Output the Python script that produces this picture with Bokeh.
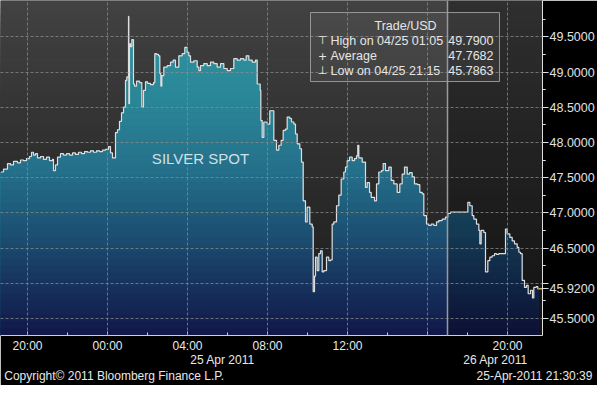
import numpy as np
from bokeh.plotting import figure
from bokeh.models import (Range1d, FixedTicker, LinearAxis, Label, BoxAnnotation,
                          Span, NumeralTickFormatter)
from bokeh.embed import file_html
from bokeh.resources import INLINE

# ---------------- data (minutes relative to 25 Apr 2011 00:00) ----------------
times = [
    -321, -312, -300, -291, -282, -270, -261, -252, -243, -234,
    -228, -222, -216, -210, -201, -192, -183, -174, -165, -162,
    -156, -150, -141, -132, -123, -114, -105, -96, -87, -78,
    -69, -60, -51, -42, -33, -24, -15, -6, 3, 9,
    15, 24, 30, 36, 42, 48, 54, 58, 63, 64,
    66, 69, 73, 78, 81, 87, 96, 103, 108, 114,
    120, 129, 138, 142, 147, 153, 157, 160, 163, 169,
    179, 189, 197, 204, 214, 224, 232, 239, 244, 249,
    259, 269, 274, 279, 289, 299, 309, 319, 329, 339,
    349, 359, 369, 379, 389, 399, 409, 416, 424, 434,
    444, 449, 458, 460, 464, 469, 479, 487, 499, 507,
    514, 521, 527, 534, 539, 547, 552, 559, 564, 569,
    577, 582, 587, 594, 599, 607, 614, 617, 621, 624,
    629, 634, 639, 644, 649, 657, 664, 669, 674, 679,
    687, 694, 701, 709, 714, 719, 726, 734, 741, 747,
    751, 754, 764, 774, 779, 786, 791, 801, 807, 814,
    822, 827, 834, 844, 851, 859, 869, 877, 884, 891,
    899, 906, 914, 921, 930, 937, 944, 949, 957, 964,
    971, 979, 987, 994, 1004, 1014, 1021, 1029, 1081, 1087,
    1094, 1099, 1107, 1114, 1117, 1121, 1129, 1134, 1141, 1147,
    1154, 1161, 1167, 1174, 1194, 1199, 1207, 1214, 1221, 1229,
    1234, 1239, 1244, 1251, 1257, 1262, 1269, 1275, 1279, 1286,
    1291,
]
prices = [
    47.58, 47.62, 47.70, 47.68, 47.73, 47.71, 47.75, 47.74, 47.77, 47.80,
    47.86, 47.82, 47.84, 47.78, 47.80, 47.76, 47.79, 47.74, 47.76, 47.60,
    47.68, 47.79, 47.84, 47.82, 47.84, 47.82, 47.85, 47.83, 47.86, 47.84,
    47.87, 47.86, 47.88, 47.86, 47.88, 47.87, 47.89, 47.90, 47.94, 47.85,
    47.78, 48.14, 48.18, 48.30, 48.42, 48.50, 48.88, 48.93, 49.79, 48.55,
    49.40, 49.36, 49.46, 48.83, 48.80, 48.87, 48.85, 48.50, 48.74, 48.86,
    48.84, 48.82, 48.85, 49.26, 49.25, 49.23, 48.98, 48.80, 48.95, 49.07,
    49.09, 49.14, 49.17, 49.07, 49.23, 49.26, 49.35, 49.28, 49.23, 49.14,
    49.16, 49.07, 49.02, 49.09, 49.12, 49.09, 49.14, 49.12, 49.07, 49.12,
    49.05, 49.02, 49.05, 49.19, 49.17, 49.19, 49.17, 49.23, 49.17, 49.14,
    49.17, 48.83, 48.74, 48.31, 48.07, 48.29, 48.26, 48.45, 48.03, 47.89,
    47.96, 48.03, 48.17, 48.19, 48.36, 48.34, 48.29, 48.26, 48.12, 47.98,
    47.91, 47.72, 47.17, 46.87, 47.08, 46.84, 46.80, 45.88, 46.10, 46.37,
    46.18, 46.42, 46.46, 46.16, 46.18, 46.37, 46.32, 46.33, 46.84, 46.87,
    47.10, 47.25, 47.48, 47.58, 47.65, 47.74, 47.79, 47.74, 47.77, 47.81,
    47.96, 47.78, 47.72, 47.36, 47.43, 47.29, 47.22, 47.17, 47.41, 47.58,
    47.60, 47.70, 47.60, 47.65, 47.46, 47.41, 47.29, 47.41, 47.55, 47.65,
    47.55, 47.57, 47.51, 47.41, 47.40, 47.29, 47.27, 46.96, 46.84, 46.82,
    46.84, 46.82, 46.87, 46.89, 46.91, 46.94, 46.99, 47.01, 47.15, 47.10,
    46.96, 46.91, 46.84, 46.75, 46.56, 46.75, 46.72, 46.16, 46.32, 46.37,
    46.39, 46.42, 46.41, 46.42, 46.77, 46.70, 46.65, 46.60, 46.56, 46.51,
    46.44, 46.42, 46.04, 45.94, 45.97, 45.85, 45.90, 45.79, 45.94, 45.95,
    45.92,
]
close_time = 1293
last_price = 45.92
day_break = 1020  # start of 26 Apr session

x_ticks = [-240, 0, 240, 480, 720, 960, 1200]
x_tick_labels = ["20:00", "00:00", "04:00", "08:00", "12:00", "", "20:00"]
date_ticks = [345, 1164]
date_labels = ["25 Apr 2011", "26 Apr 2011"]
y_ticks = [45.5, 46.0, 46.5, 47.0, 47.5, 48.0, 48.5, 49.0, 49.5]
footer_ticks = [20, 1281]
footer_labels = ["Copyright\u00a9 2011 Bloomberg Finance L.P.", "25-Apr-2011 21:30:39"]

series_title = "SILVER SPOT"
legend_title = "Trade/USD"
legend_symbols = ["\u22a4", "+", "\u22a5"]
legend_names = ["High on 04/25 01:05", "Average", "Low on 04/25 21:15"]
legend_values = ["49.7900", "47.7682", "45.7863"]

# ---------------- ranges ----------------
X0, X1 = -321, 1305
Y0, Y1 = 45.257, 50.016
PY = 1 / 70.4   # price per pixel

FONT = "Liberation Sans"

p = figure(frame_width=542, frame_height=335,
           x_range=Range1d(X0, X1), y_range=Range1d(Y0, Y1),
           y_axis_location="right", output_backend="svg", toolbar_location=None,
           min_border_left=0, min_border_top=0, min_border_right=55,
           min_border_bottom=48, background_fill_color="#2e2e2e",
           border_fill_color="black", outline_line_color=None)


def hex2rgb(h):
    return np.array([int(h[i:i + 2], 16) for i in (1, 3, 5)], dtype=float)


def grad(stops, v):
    vs = [s[0] for s in stops]
    cs = [hex2rgb(s[1]) for s in stops]
    rgb = [np.interp(v, vs, [c[k] for c in cs]) for k in range(3)]
    return "#%02x%02x%02x" % tuple(int(round(c)) for c in rgb)


bounds = np.linspace(Y0, Y1, 49)[1:]
step = bounds[1] - bounds[0]
tops = bounds[::-1]

# background gradient
bg_stops = [(Y0, "#1b1b1b"), (47.4, "#2b2b2b"), (Y1, "#424242")]
p.quad(left=[X0] * len(tops), right=[X1] * len(tops), bottom=[Y0] * len(tops),
       top=tops, fill_color=[grad(bg_stops, b - step / 2) for b in tops],
       line_color=None)

# stepped area with gradient
t = np.array(times + [close_time], dtype=float)
v = np.array(prices + [prices[-1]], dtype=float)
xs = np.repeat(t, 2)[1:]
ys = np.repeat(v, 2)[:-1]
fill_stops = [(Y0, "#11174a"), (46.04, "#17355f"), (46.75, "#1c5174"),
              (47.60, "#246f8a"), (48.595, "#2a8696"), (Y1, "#3098a4")]
for b in tops:
    p.varea(x=xs, y1=np.full_like(ys, Y0), y2=np.minimum(ys, b),
            fill_color=grad(fill_stops, b - step / 2), fill_alpha=1.0)

# darker current session
p.quad(left=[day_break], right=[X1], bottom=[Y0], top=[Y1],
       fill_color="black", fill_alpha=0.28, line_color=None)

# price line
p.step(x=list(t), y=list(v), mode="after", line_color="#dedede", line_width=1.2)
p.ray(x=[close_time], y=[last_price], length=0, angle=0,
      line_color="#e8a33a", line_width=1.5)

# grids
p.ygrid.ticker = FixedTicker(ticks=y_ticks)
p.xgrid.ticker = FixedTicker(ticks=x_ticks)
for g in (p.xgrid, p.ygrid):
    g.grid_line_color = "#8c8c8c"
    g.grid_line_dash = "3 2"
    g.grid_line_alpha = 0.75
    g.level = "guide"


def style_x(ax, standoff):
    ax.axis_label = None
    ax.axis_label_standoff = 0
    ax.major_label_text_color = "#e8e8e8"
    ax.major_label_text_font = FONT
    ax.major_label_text_font_size = "12px"
    ax.major_label_standoff = standoff


# x axis (times)
xa = p.xaxis[0]
xa.ticker = FixedTicker(ticks=x_ticks, minor_ticks=list(range(-240, 1321, 120)))
xa.major_label_overrides = dict(zip(x_ticks, x_tick_labels))
xa.major_tick_in = 4
xa.major_tick_out = 0
xa.minor_tick_in = 3
xa.minor_tick_out = 0
xa.axis_line_color = "#d0d0d0"
xa.major_tick_line_color = "#d0d0d0"
xa.minor_tick_line_color = "#d0d0d0"
style_x(xa, 3)

# date row
da = LinearAxis(ticker=FixedTicker(ticks=date_ticks),
                major_label_overrides=dict(zip(date_ticks, date_labels)),
                axis_line_color=None, major_tick_line_color=None,
                minor_tick_line_color=None)
style_x(da, -9)
p.add_layout(da, "below")

# footer row
fa = LinearAxis(ticker=FixedTicker(ticks=footer_ticks),
                major_label_overrides=dict(zip(footer_ticks, footer_labels)),
                axis_line_color=None, major_tick_line_color=None,
                minor_tick_line_color=None)
style_x(fa, -7)
p.add_layout(fa, "below")

# y axis (price), with the last-price tag
ya = p.yaxis[0]
ya.ticker = FixedTicker(ticks=sorted(y_ticks + [last_price]),
                        minor_ticks=[y + d for y in y_ticks for d in (-0.25, 0.25)])
ya.formatter = NumeralTickFormatter(format="0.0000")
ya.major_label_overrides = {46.0: ""}
ya.axis_label = None
ya.axis_label_standoff = 0
ya.major_tick_in = 0
ya.major_tick_out = 6
ya.minor_tick_in = 0
ya.minor_tick_out = 3
ya.axis_line_color = "#e0e0e0"
ya.major_tick_line_color = "#e0e0e0"
ya.minor_tick_line_color = "#e0e0e0"
ya.major_label_text_color = "#e0e0e0"
ya.major_label_text_font = FONT
ya.major_label_text_font_size = "12.5px"
ya.major_label_standoff = 1

# session separator
p.add_layout(Span(location=day_break, dimension="height", line_color="#9a9a9a",
                  line_width=1.5))

# legend box
p.add_layout(BoxAnnotation(left=609, right=1176, top=49.845, bottom=48.865,
                           fill_color="#8a8a8a", fill_alpha=0.12,
                           line_color="#a0a0a0", line_width=1, line_alpha=0.9))
p.add_layout(Label(x=894, y=49.66, text=legend_title, text_align="center",
                   text_baseline="middle", text_color="#e6e6e6",
                   text_font=FONT, text_font_size="12.5px"))
for i, (sym, name, val) in enumerate(zip(legend_symbols, legend_names, legend_values)):
    yy = 49.447 - i * 15 * PY
    p.add_layout(Label(x=645, y=yy, text=sym, text_align="center",
                       text_baseline="middle", text_color="#e6e6e6",
                       text_font="DejaVu Sans", text_font_size="11px"))
    p.add_layout(Label(x=669, y=yy, text=name, text_align="left",
                       text_baseline="middle", text_color="#e6e6e6",
                       text_font=FONT, text_font_size="12.5px"))
    p.add_layout(Label(x=1158, y=yy, text=val, text_align="right",
                       text_baseline="middle", text_color="#e6e6e6",
                       text_font=FONT, text_font_size="12.5px"))

# series name
p.add_layout(Label(x=279, y=47.771, text=series_title, text_align="center",
                   text_baseline="middle", text_color="#cfe0e6",
                   text_font=FONT, text_font_size="15px"))

open("out.html", "w").write(file_html(p, INLINE))
